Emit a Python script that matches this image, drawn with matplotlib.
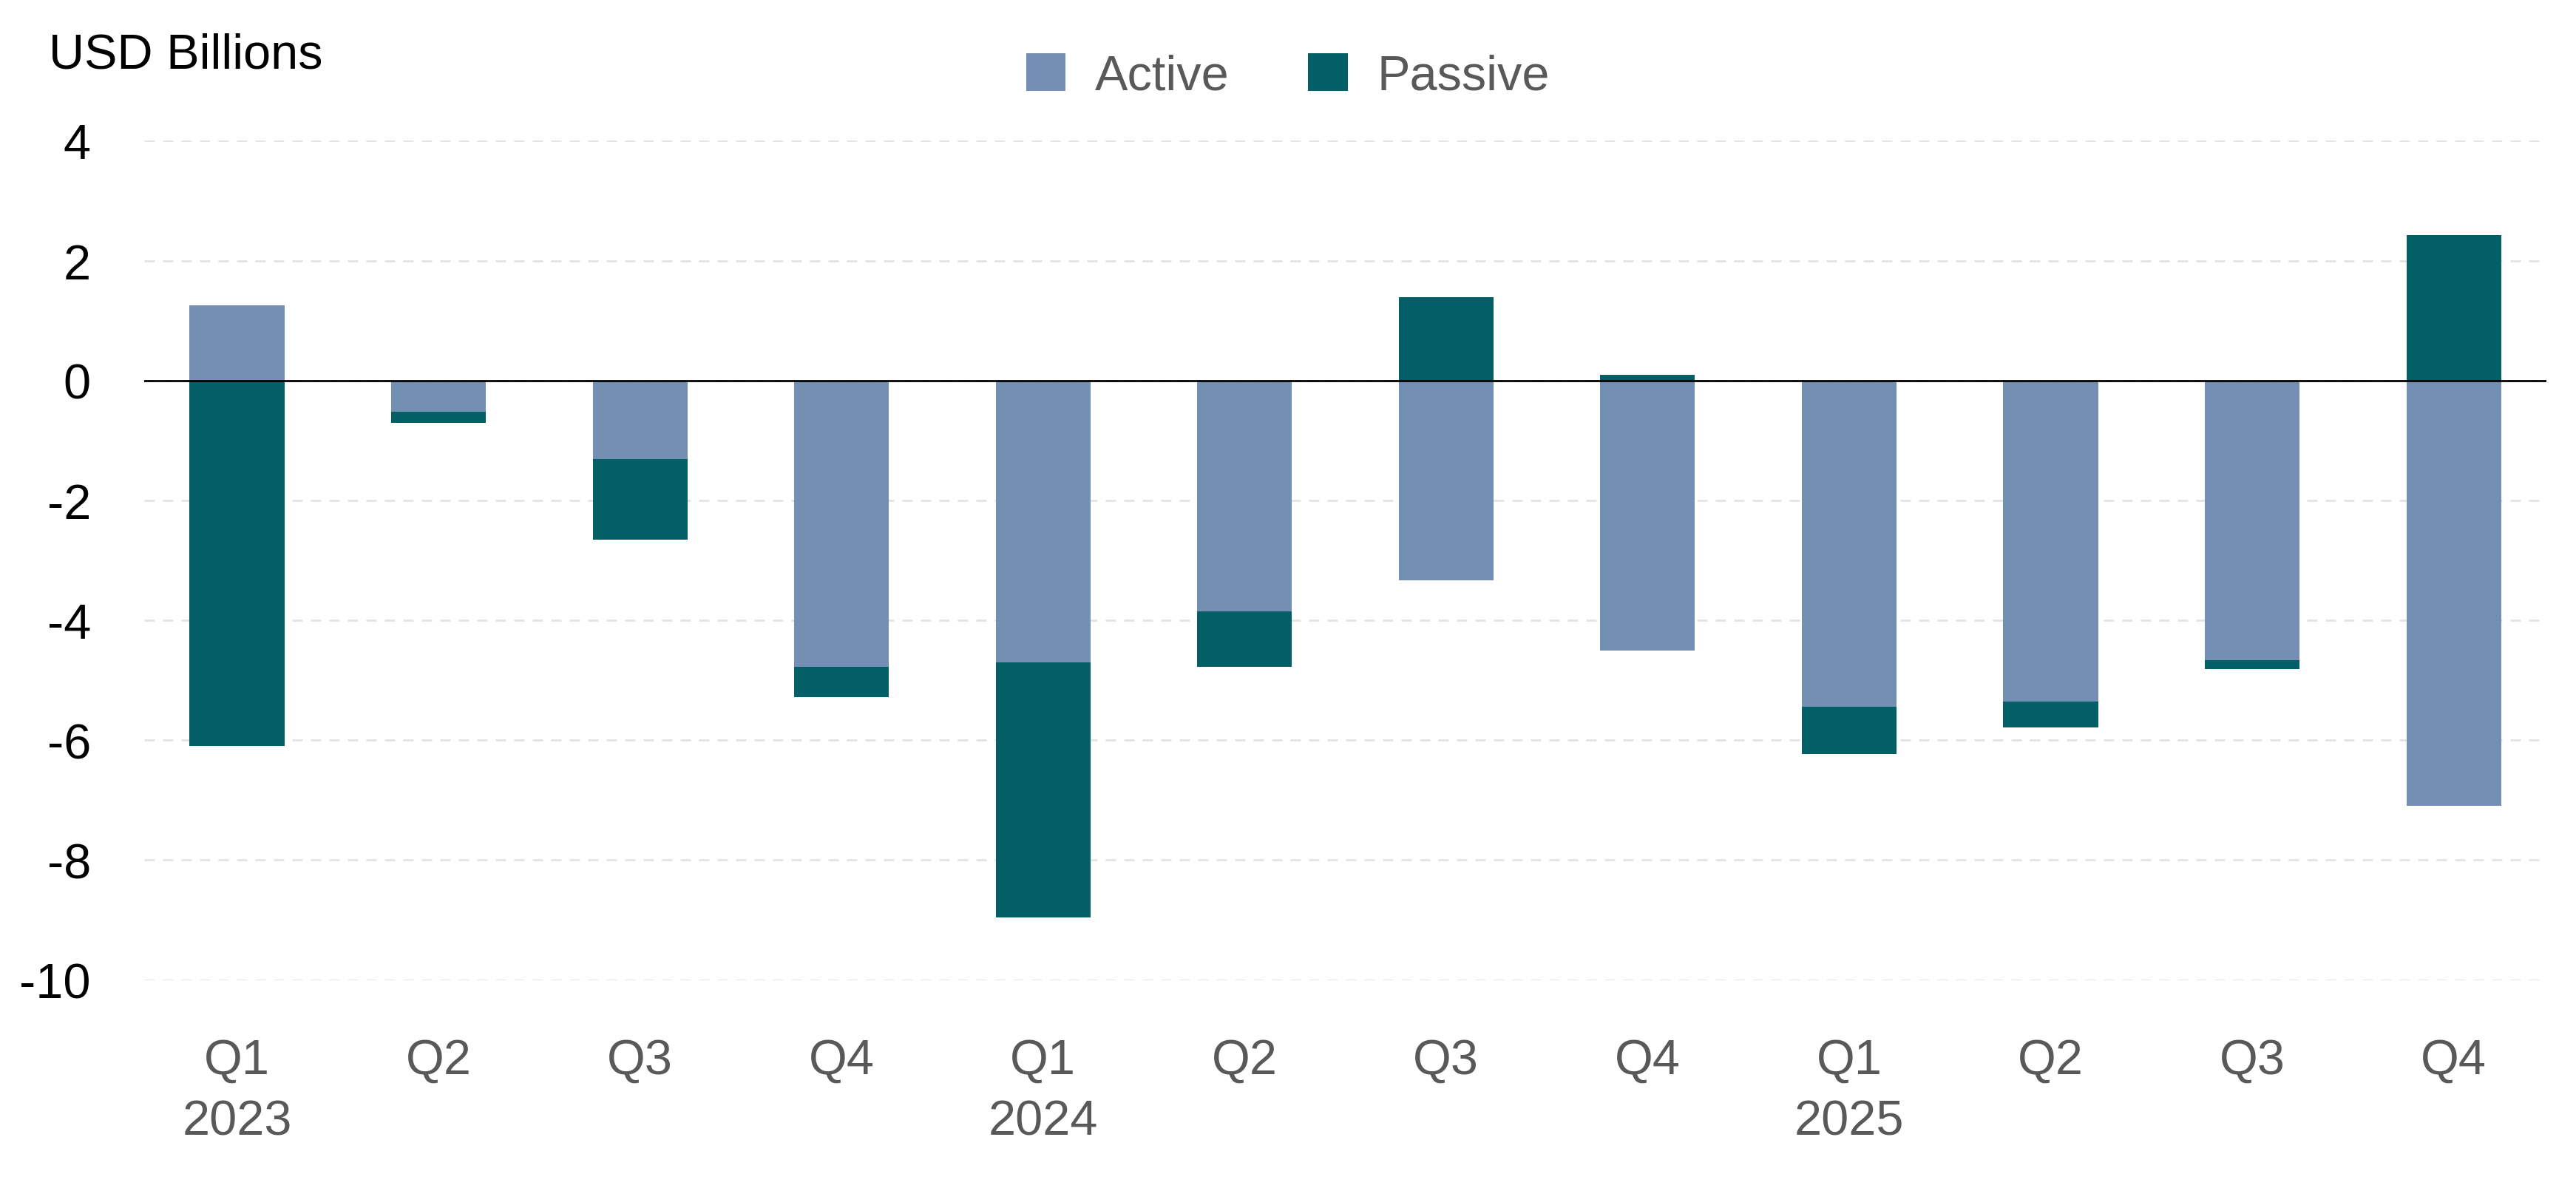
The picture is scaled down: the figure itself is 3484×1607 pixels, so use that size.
import numpy as np
import matplotlib.pyplot as plt

# datos (USD Billions)
quarters = ["Q1\n2023", "Q2", "Q3", "Q4", "Q1\n2024", "Q2", "Q3", "Q4",
            "Q1\n2025", "Q2", "Q3", "Q4"]
active = [1.25, -0.52, -1.31, -4.78, -4.70, -3.85, -3.33, -4.50, -5.44, -5.36, -4.67, -7.10]
passive = [-6.10, -0.19, -1.34, -0.50, -4.26, -0.93, 1.39, 0.10, -0.79, -0.43, -0.14, 2.43]

plt.rcParams['font.family'] = ['Liberation Sans', 'DejaVu Sans']
plt.rcParams['axes.unicode_minus'] = False

c_active = '#7390b4'
c_passive = '#025f65'
fs = 24

fig = plt.figure(figsize=(17.42, 8.04), dpi=200)
ax = fig.add_axes([0.056, 0.175, 0.9325, 0.706])

x = np.arange(len(quarters))
act = np.array(active)
pas = np.array(passive)
w = 0.47

ax.bar(x, act, w, color=c_active, label='Active', zorder=2)
# apilar pasivos: positivos sobre positivos, negativos bajo negativos
bottom = np.where(np.sign(pas) == np.sign(act), act, 0)
ax.bar(x, pas, w, bottom=bottom, color=c_passive, label='Passive', zorder=2)

ax.axhline(0, color='black', linewidth=1.0, zorder=3)
ax.set_ylim(-10, 4)
ax.set_xlim(-0.46, len(quarters) - 0.54)
ax.set_yticks(range(-10, 5, 2))
ax.yaxis.grid(True, linestyle=(0, (5, 4)), color='#e3e3e3', linewidth=1.0, zorder=0)
ax.set_xticks(x)
ax.set_xticklabels(quarters, fontsize=fs, color='#595959', linespacing=1.45,
                   va='top')
ax.tick_params(axis='y', labelsize=fs, labelcolor='black', length=0, pad=26)
ax.tick_params(axis='x', length=0, pad=28)
for s in ax.spines.values():
    s.set_visible(False)

fig.text(0.019, 0.953, 'USD Billions', fontsize=fs, va='center', ha='left')
leg = fig.legend(loc='center', bbox_to_anchor=(0.5, 0.935), ncol=2, frameon=False,
                 fontsize=fs, handlelength=0.8, handleheight=0.8,
                 columnspacing=1.6, handletextpad=0.6)
for t in leg.get_texts():
    t.set_color('#595959')

fig.savefig('out.png', dpi=200)
